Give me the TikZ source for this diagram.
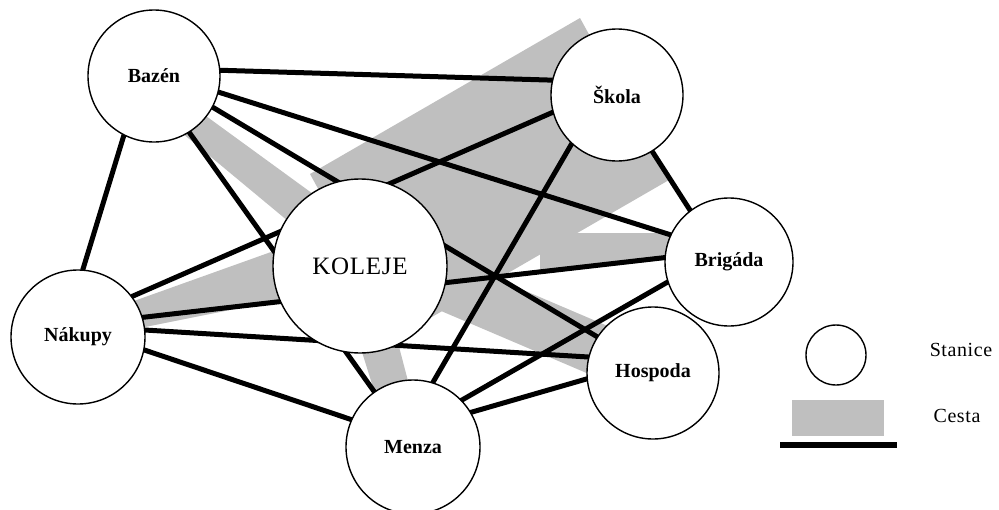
\documentclass[tikz,border=0pt]{standalone}
\usepackage{fontspec}
\setmainfont{Liberation Serif}
\pgfdeclarelayer{greylayer}
\pgfdeclarelayer{linelayer}
\pgfsetlayers{greylayer,linelayer,main}
\definecolor{cestagrey}{RGB}{191,191,191}
\begin{document}
\begin{tikzpicture}[x=1pt,y=-1pt,
  stanice/.style={circle,draw=black,line width=1.4pt,fill=white,inner sep=0pt,outer sep=0pt,
    font=\fontsize{20}{22}\selectfont\bfseries},
  spoj/.style={line width=5pt,black},
  cesta/.style={fill=cestagrey,draw=none},
  legtext/.style={font=\fontsize{20}{22}\selectfont\addfontfeature{LetterSpace=3}}]
\useasboundingbox (0,0) rectangle (999,509);
% stations
\node[stanice,minimum size=132pt] (baz) at (154,76) {Bazén};
\node[stanice,minimum size=132pt] (sko) at (617,95) {Škola};
\node[stanice,minimum size=174pt,font=\fontsize{25}{28}\selectfont\addfontfeature{LetterSpace=3}] (kol) at (360,266) {KOLEJE};
\node[stanice,minimum size=128pt] (bri) at (729,262) {Brigáda};
\node[stanice,minimum size=132pt] (hos) at (653,373) {Hospoda};
\node[stanice,minimum size=134pt] (nak) at (78,337) {Nákupy};
\node[stanice,minimum size=134pt] (men) at (413,447) {Menza};
% legend
\node[stanice,minimum size=60pt] (leg) at (836,355) {};
\node[cesta,minimum width=92pt,minimum height=36pt,inner sep=0pt] (legrect) at (838,418) {};
\coordinate (lga) at (780,444.5);
\coordinate (lgb) at (897,444.5);
\draw[line width=6pt] (lga) -- (lgb);
\node[legtext] (st) at (961,350) {Stanice};
\node[legtext] (ce) at (957,416) {Cesta};
% connectors
\begin{pgfonlayer}{linelayer}
\draw[spoj] (baz.5) -- (sko.167);
\draw[spoj] (baz.-14) -- (bri.155);
\draw[spoj] (baz.-28) -- (hos.147);
\draw[spoj] (baz.-58) -- (men.125);
\draw[spoj] (baz.243) -- (nak.86);
\draw[spoj] (nak.37) -- (sko.195);
\draw[spoj] (nak.17) -- (bri.176);
\draw[spoj] (nak.6) -- (hos.166);
\draw[spoj] (nak.-11) -- (men.156);
\draw[spoj] (sko.227) -- (men.73);
\draw[spoj] (sko.-58) -- (bri.127);
\draw[spoj] (bri.198) -- (men.44);
\draw[spoj] (hos.185) -- (men.31);
\end{pgfonlayer}
% grey route (Cesta)
\begin{pgfonlayer}{greylayer}
\fill[cestagrey] (310,174) -- (580,18) -- (669,180) -- (399,336) -- cycle;
\fill[cestagrey] (170,123) -- (195,108) -- (320,199) -- (300,231) -- cycle;
\fill[cestagrey] (120,306) -- (285,247) -- (290,298) -- (120,332) -- cycle;
\fill[cestagrey] (540,233) -- (700,233) -- (700,256) -- (540,274) -- cycle;
\fill[cestagrey] (420,246) -- (610,327) -- (610,383) -- (420,302) -- cycle;
\fill[cestagrey] (352,320) -- (392,320) -- (413,400) -- (377,400) -- cycle;
\end{pgfonlayer}
\end{tikzpicture}
\end{document}
